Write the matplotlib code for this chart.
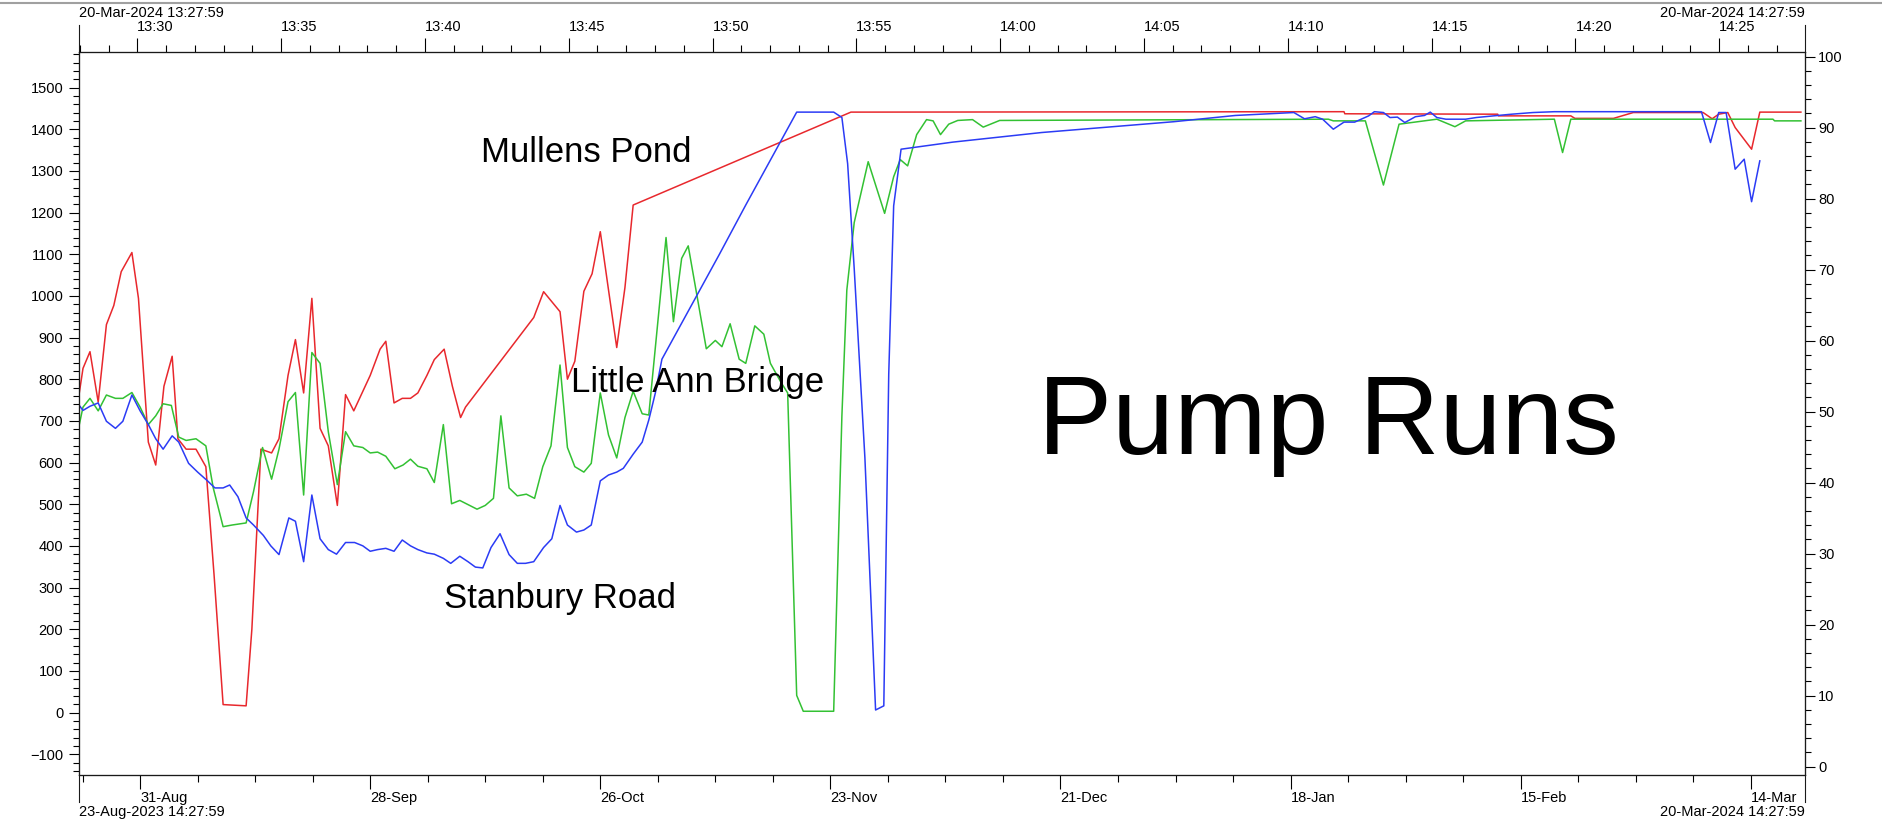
import matplotlib
matplotlib.use('Agg')
import matplotlib.pyplot as plt
from matplotlib.lines import Line2D
from matplotlib.ticker import MultipleLocator
import numpy as np
import pandas as pd

plt.rcParams['font.family'] = ['Liberation Sans', 'DejaVu Sans']

START = pd.Timestamp('2023-08-23 14:27:59')
END = pd.Timestamp('2024-03-20 14:27:59')
TOP_START = pd.Timestamp('2024-03-20 13:27:59')
TOP_END = pd.Timestamp('2024-03-20 14:27:59')

# pump run minutes, x = days after START
mullens_days = [0, 0.45, 1.3, 2.3, 3.3, 4.2, 5.1, 6.4, 7.2, 8.4, 9.3, 10.3, 11.3, 12.0, 13.0,
                14.2, 15.4, 16.4, 17.5, 20.3, 21.0, 22.1, 23.4, 24.3, 25.4, 26.3, 27.3, 28.3,
                29.3, 30.3, 31.4, 32.4, 33.4, 34.2, 35.4, 36.6, 37.3, 38.3, 39.3, 40.3, 41.2,
                42.3, 43.2, 44.4, 45.4, 46.4, 47.0, 55.3, 56.5, 58.5, 59.4, 60.3, 61.4, 62.4,
                63.4, 64.3, 65.4, 66.4, 67.4, 93.9, 153.9, 154.0, 172.6, 172.7, 181.5, 182.0,
                186.7, 189.1, 197.6, 198.7, 199.5, 200.6, 201.5, 203.5, 204.5, 209.5]
mullens_vals = [767, 826, 866, 745, 931, 977, 1058, 1104, 994, 649, 594, 783, 855, 657, 632,
                632, 590, 330, 19, 16, 200, 632, 623, 657, 809, 895, 767, 994,
                682, 640, 497, 763, 724, 758, 809, 872, 891, 743, 754, 754, 767,
                809, 847, 872, 783, 708, 733, 948, 1010, 962, 800, 843, 1011, 1053,
                1154, 1028, 876, 1020, 1218, 1441, 1442, 1437, 1436, 1432, 1432, 1426,
                1426, 1440, 1440, 1425, 1436, 1440, 1404, 1352, 1441, 1441]

little_ann_days = [0, 0.45, 1.3, 2.3, 3.3, 4.4, 5.3, 6.4, 7.4, 8.4, 9.3, 10.2, 11.2, 12.1, 13.0,
                   14.2, 15.4, 16.3, 17.5, 18.6, 20.3, 21.2, 22.3, 23.4, 24.3, 25.4, 26.3, 27.3,
                   28.3, 29.3, 30.3, 31.4, 32.4, 33.4, 34.5, 35.4, 36.3, 37.3, 38.4, 39.4, 40.3,
                   41.2, 42.3, 43.2, 44.3, 45.3, 46.3, 47.4, 48.4, 49.4, 50.4, 51.3, 52.3, 53.3,
                   54.4, 55.4, 56.4, 57.4, 58.5, 59.4, 60.3, 61.4, 62.3, 63.4, 64.4, 65.4, 66.4,
                   67.4, 68.5, 69.3, 71.4, 72.3, 73.3, 74.1, 76.3, 77.4, 78.2, 79.2, 80.3, 81.1,
                   82.2, 83.3, 84.1, 85.4, 86.2, 87.3, 88.1, 91.8, 92.4, 92.8, 93.4, 94.3, 96.0,
                   98.0, 99.1, 99.9, 100.8, 101.9, 103.1, 103.9, 104.8, 105.8, 106.9, 108.7,
                   110.0, 112.0, 152.0, 152.6, 156.5, 158.7, 160.6, 165.2, 167.4, 168.7, 179.5,
                   180.5, 181.5, 206.1, 206.3, 209.5]
little_ann_vals = [691, 733, 754, 724, 762, 754, 754, 768, 733, 691, 712, 741, 737, 661, 653,
                   657, 640, 539, 446, 450, 455, 530, 636, 560, 632, 746, 768, 522,
                   864, 838, 674, 547, 674, 640, 636, 623, 625, 615, 585, 594, 608,
                   591, 585, 552, 691, 501, 509, 498, 488, 497, 514, 712, 539, 520,
                   524, 514, 590, 640, 834, 636, 590, 577, 598, 767, 666, 611, 708,
                   771, 717, 714, 1140, 938, 1090, 1120, 873, 893, 878, 933, 848, 838,
                   928, 908, 838, 792, 767, 41, 3, 3, 428, 712, 1014, 1176, 1322,
                   1198, 1286, 1327, 1312, 1387, 1423, 1420, 1387, 1412, 1421, 1423,
                   1405, 1421, 1424, 1420, 1420, 1266, 1412, 1424, 1406, 1420, 1424,
                   1344, 1424, 1424, 1420, 1420]

stanbury_days = [0, 0.45, 1.3, 2.3, 3.3, 4.4, 5.3, 6.4, 7.4, 8.4, 9.3, 10.2, 11.3, 12.1, 13.3,
                 14.4, 15.6, 16.5, 17.5, 18.3, 19.3, 20.3, 21.2, 22.4, 23.3, 24.3, 25.5, 26.3,
                 27.3, 28.3, 29.3, 30.3, 31.3, 32.4, 33.5, 34.5, 35.4, 36.3, 37.3, 38.3, 39.3,
                 40.3, 41.2, 42.3, 43.2, 44.3, 45.2, 46.3, 47.3, 48.2, 49.1, 50.1, 51.2, 52.3,
                 53.3, 54.3, 55.3, 56.5, 57.5, 58.5, 59.4, 60.5, 61.4, 62.3, 63.4, 64.4, 65.4,
                 66.2, 67.4, 68.5, 69.3, 70.1, 70.9, 77.9, 81.1, 87.3, 91.8, 92.8, 93.5, 94.3,
                 95.6, 96.9, 97.9, 98.5, 99.1, 100.0, 106.3, 117.1, 133.2, 140.7, 147.8, 149.1,
                 150.4, 151.3, 152.6, 153.9, 155.2, 156.9, 157.6, 158.7, 159.5, 160.4, 161.3,
                 162.6, 163.7, 164.4, 165.2, 166.3, 168.7, 170.0, 172.1, 174.3, 176.9, 179.5,
                 197.4, 198.5, 199.5, 200.4, 201.5, 202.6, 203.5, 204.5]
stanbury_vals = [737, 725, 735, 743, 699, 682, 699, 762, 724, 691, 657, 632, 664, 649, 598,
                 577, 556, 539, 539, 546, 518, 467, 450, 425, 400, 379, 467, 459,
                 362, 522, 417, 391, 380, 408, 408, 400, 387, 391, 394, 387, 414,
                 400, 391, 383, 380, 370, 358, 375, 362, 349, 347, 396, 429, 379,
                 358, 358, 362, 396, 417, 497, 450, 433, 438, 450, 556, 570, 577,
                 586, 620, 649, 702, 767, 848, 1100, 1218, 1441, 1441, 1428, 1317, 1065,
                 611, 6, 16, 812, 1216, 1352, 1369, 1392, 1418, 1433, 1440, 1425,
                 1430, 1424, 1400, 1417, 1417, 1432, 1442, 1440, 1428, 1429, 1416,
                 1430, 1433, 1441, 1428, 1424, 1424, 1428, 1432, 1436, 1440, 1442,
                 1442, 1368, 1440, 1440, 1304, 1328, 1226, 1324]

# axis ticks
bottom_major = pd.date_range('2023-08-31', '2024-03-14', freq='28D')
bottom_minor = pd.date_range('2023-08-24', '2024-03-20', freq='7D')
top_major = pd.date_range('2024-03-20 13:30', '2024-03-20 14:25', freq='5min')
top_minor = pd.date_range('2024-03-20 13:28', '2024-03-20 14:27', freq='1min')


def to_dates(days):
    return START + pd.to_timedelta(np.array(days), unit='D')


W, H = 1883, 822
fig = plt.figure(figsize=(W / 100, H / 100), dpi=100)
ax = fig.add_axes([79.3 / W, 1 - 775 / H, (1805 - 79.3) / W, (775 - 51.7) / H])

ax.plot(to_dates(mullens_days), mullens_vals, color='#e8282d', lw=1.1)
ax.plot(to_dates(little_ann_days), little_ann_vals, color='#33c133', lw=1.1)
ax.plot(to_dates(stanbury_days), stanbury_vals, color='#2b3bf5', lw=1.1)

ax.set_xlim(START, END)
ax.set_ylim(-150, 1586)
ax.yaxis.set_major_locator(MultipleLocator(100))
ax.yaxis.set_minor_locator(MultipleLocator(20))
ax.set_xticks(bottom_major, labels=[d.strftime('%d-%b') for d in bottom_major], ha='left')
ax.set_xticks(bottom_minor, minor=True)

ax.tick_params(axis='x', which='major', length=10, width=0.8, pad=1.7, labelsize=10.5)
ax.tick_params(axis='x', which='minor', length=4.8, width=0.8)
ax.tick_params(axis='y', which='major', length=7.2, width=0.8, pad=4.3, labelsize=10.5)
ax.tick_params(axis='y', which='minor', length=4.1, width=0.8)

# right axis
ax2 = ax.twinx()
ax2.set_ylim(-1.17, 100.7)
ax2.yaxis.set_major_locator(MultipleLocator(10))
ax2.yaxis.set_minor_locator(MultipleLocator(2))
ax2.tick_params(axis='y', which='major', length=7.2, width=0.8, pad=2.4, labelsize=10.5)
ax2.tick_params(axis='y', which='minor', length=4.1, width=0.8)

# top time axis
ax3 = ax.twiny()
ax3.set_xlim(TOP_START, TOP_END)
ax3.set_xticks(top_major, labels=[d.strftime('%H:%M') for d in top_major], ha='left')
ax3.set_xticks(top_minor, minor=True)
ax3.tick_params(axis='x', which='major', length=10, width=0.8, pad=2.5, labelsize=10.5)
ax3.tick_params(axis='x', which='minor', length=4.8, width=0.8)

for a in (ax, ax2, ax3):
    for s in a.spines.values():
        s.set_linewidth(0.8)
        s.set_color('#1a1a1a')

# long ticks at the ends of the time axes
edge = 27 / (775 - 51.7)
for x0 in (0, 1):
    ax.plot([x0, x0], [1, 1 + edge], transform=ax.transAxes, color='#1a1a1a', lw=0.8, clip_on=False)
    ax.plot([x0, x0], [0, -edge], transform=ax.transAxes, color='#1a1a1a', lw=0.8, clip_on=False)

ax.text(0, 1.053, '20-Mar-2024 13:27:59', transform=ax.transAxes, ha='left', va='center', fontsize=10.5)
ax.text(1, 1.053, '20-Mar-2024 14:27:59', transform=ax.transAxes, ha='right', va='center', fontsize=10.5)
ax.text(0, -0.051, '23-Aug-2023 14:27:59', transform=ax.transAxes, ha='left', va='center', fontsize=10.5)
ax.text(1, -0.051, '20-Mar-2024 14:27:59', transform=ax.transAxes, ha='right', va='center', fontsize=10.5)

fig.text(481 / W, 1 - 162 / H, 'Mullens Pond', fontsize=25, va='baseline')
fig.text(571 / W, 1 - 392 / H, 'Little Ann Bridge', fontsize=25, va='baseline')
fig.text(444 / W, 1 - 608 / H, 'Stanbury Road', fontsize=25, va='baseline')
fig.text(1038 / W, 1 - 454 / H, 'Pump Runs', fontsize=80, va='baseline')

# window border line at the top
fig.add_artist(Line2D([0, 1], [1 - 3 / H, 1 - 3 / H], transform=fig.transFigure, color='#a0a0a0', lw=1.5))

fig.savefig('out.png', dpi=100)
